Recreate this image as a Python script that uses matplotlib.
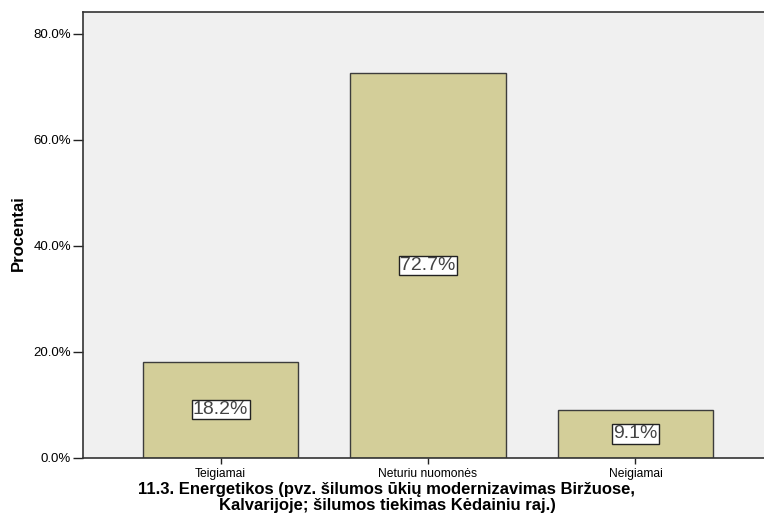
import matplotlib.pyplot as plt
from matplotlib.ticker import FuncFormatter

plt.rcParams['font.family'] = ['Liberation Sans', 'DejaVu Sans']

categories = ["Teigiamai", "Neturiu nuomonės", "Neigiamai"]
percents = [18.2, 72.7, 9.1]
yticks = [0, 20, 40, 60, 80]

fig = plt.figure(figsize=(7.64, 5.23), dpi=100)
ax = fig.add_axes([0.1086, 0.1243, 0.8914, 0.8528])
ax.set_facecolor("#f0f0f0")

x = range(len(categories))
ax.bar(x, percents, width=0.75, color="#d3ce99", edgecolor="#3c3c3c", linewidth=1.0, zorder=2)

for xi, p in zip(x, percents):
    ax.text(xi, p / 2, f"{p:.1f}%", ha="center", va="center", fontsize=14, color="#444444",
            bbox=dict(boxstyle="square,pad=0.06", facecolor="white", edgecolor="#222222", linewidth=1.0),
            zorder=3)

ax.set_xlim(-0.664, 2.62)
ax.set_ylim(0, 84.15)
ax.set_yticks(yticks)
ax.yaxis.set_major_formatter(FuncFormatter(lambda v, _: f"{v:.1f}%"))
ax.set_xticks(list(x))
ax.set_xticklabels(categories)
ax.tick_params(axis="y", labelsize=9.5, direction="out", length=7.5, width=1, color="#222222", pad=1)
ax.tick_params(axis="x", labelsize=8.7, direction="out", length=4, width=1, color="#222222", pad=3)

ax.spines["right"].set_visible(False)
for s in ["left", "bottom", "top"]:
    ax.spines[s].set_color("#333333")
    ax.spines[s].set_linewidth(1.2)

ax.set_ylabel("Procentai", fontsize=12, fontweight="bold")
ax.yaxis.set_label_coords((18 - 83) / 681, (458 - 233) / 446)
ax.yaxis.label.set_va("center")
ax.set_xlabel("11.3. Energetikos (pvz. šilumos ūkių modernizavimas Biržuose,\nKalvarijoje; šilumos tiekimas Kėdainiu raj.)",
              fontsize=12, fontweight="bold", linespacing=1.05)
ax.xaxis.set_label_coords((387 - 83) / 681, -(482 - 458) / 446)
ax.xaxis.label.set_va("top")

fig.savefig("out.png", dpi=100)
